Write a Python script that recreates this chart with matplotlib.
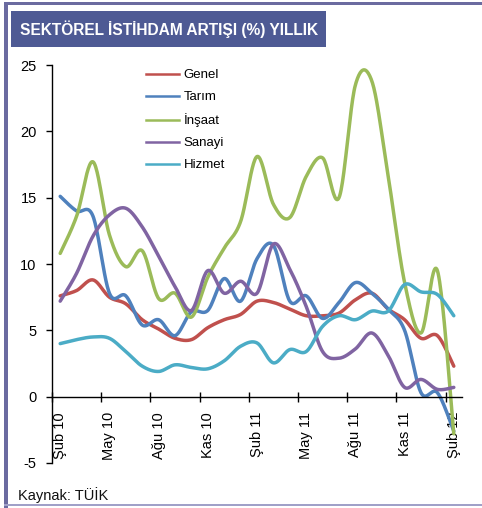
import numpy as np
import matplotlib
matplotlib.use('Agg')
import matplotlib.pyplot as plt
from matplotlib.patches import Rectangle
from matplotlib.lines import Line2D

plt.rcParams['font.family'] = ['Liberation Sans', 'DejaVu Sans']

# ---- data ----
tick_labels = ['Şub 10', 'May 10', 'Ağu 10', 'Kas 10', 'Şub 11', 'May 11', 'Ağu 11', 'Kas 11', 'Şub 12']
series_names = ['Genel', 'Tarım', 'İnşaat', 'Sanayi', 'Hizmet']
genel = [7.6, 8.0, 8.8, 7.5, 7.0, 5.8, 5.1, 4.4, 4.3, 5.2, 5.8, 6.2, 7.2, 7.1, 6.6, 6.1, 6.1, 6.3, 7.3, 7.8, 6.6, 5.8, 4.4, 4.6, 2.3]
tarim = [15.1, 14.0, 13.6, 7.8, 7.6, 5.4, 5.8, 4.6, 6.4, 6.5, 8.9, 7.2, 10.4, 11.4, 7.2, 7.6, 5.9, 7.1, 8.6, 7.8, 6.6, 5.0, 0.3, 0.3, -2.6]
insaat = [10.8, 13.6, 17.7, 12.2, 9.8, 11.0, 7.4, 7.8, 6.0, 9.0, 11.2, 13.2, 18.1, 14.5, 13.5, 16.6, 18.0, 15.0, 23.5, 23.8, 16.6, 8.6, 4.8, 9.5, -2.8]
sanayi = [7.2, 9.3, 12.1, 13.7, 14.2, 12.8, 10.6, 8.3, 6.5, 9.5, 7.8, 8.7, 7.8, 11.5, 9.6, 6.8, 3.4, 2.9, 3.6, 4.8, 3.1, 0.7, 1.3, 0.55, 0.7]
hizmet = [4.0, 4.3, 4.5, 4.4, 3.4, 2.3, 1.9, 2.4, 2.2, 2.1, 2.7, 3.8, 4.05, 2.55, 3.55, 3.4, 5.3, 6.1, 5.8, 6.45, 6.45, 8.45, 7.9, 7.7, 6.1]
colors = ['#C0504D', '#4F81BD', '#9BBB59', '#8064A2', '#4BACC6']


def smooth(y, n=24):
    """Excel-like smoothed line (Catmull-Rom Bezier) through the points."""
    y = np.asarray(y, float)
    x = np.arange(len(y), dtype=float)
    P = np.column_stack([x, y])
    Pe = np.vstack([P[0], P, P[-1]])
    out = []
    t = np.linspace(0, 1, n, endpoint=False)[:, None]
    for i in range(len(P) - 1):
        p0, p1, p2, p3 = Pe[i], Pe[i + 1], Pe[i + 2], Pe[i + 3]
        b1 = p1 + (p2 - p0) / 6.0
        b2 = p2 - (p3 - p1) / 6.0
        seg = ((1 - t) ** 3) * p1 + 3 * ((1 - t) ** 2) * t * b1 + 3 * (1 - t) * t ** 2 * b2 + t ** 3 * p2
        out.append(seg)
    out.append(P[-1][None, :])
    out = np.vstack(out)
    return out[:, 0], out[:, 1]


W, H = 482, 508
fig = plt.figure(figsize=(W / 100, H / 100), dpi=100)
fig.patch.set_facecolor('white')

# frame decoration
fig.add_artist(Rectangle((4 / W, 0), 4 / W, 1 - 2 / H, transform=fig.transFigure,
                         facecolor='#6B6BA0', edgecolor='none'))
fig.add_artist(Rectangle((4 / W, 1 - 5 / H), 1, 3 / H, transform=fig.transFigure,
                         facecolor='#6B6BA0', edgecolor='none'))
fig.add_artist(Rectangle((4 / W, 2 / H), 1, 2 / H, transform=fig.transFigure,
                         facecolor='#A0A0C8', edgecolor='none'))
# title bar
fig.add_artist(Rectangle((11 / W, 1 - 47 / H), 315 / W, 36 / H, transform=fig.transFigure,
                         facecolor='#4E5A94', edgecolor='none'))
fig.text(20 / W, 1 - 29 / H, 'SEKTÖREL İSTİHDAM ARTIŞI (%) YILLIK', color='white',
         fontsize=11.2, fontweight='bold', ha='left', va='center')
fig.text(18 / W, 1 - 495 / H, 'Kaynak: TÜİK', fontsize=10.5, ha='left', va='center', color='#111111')

ax = fig.add_axes([52 / W, 1 - 463 / H, 410 / W, 398 / H])
series = [genel, tarim, insaat, sanayi, hizmet]
for name, vals, c in zip(series_names, series, colors):
    sx, sy = smooth(vals)
    ax.plot(sx, sy, color=c, lw=2.5, solid_capstyle='round', solid_joinstyle='round')

n = len(genel)
ax.set_xlim(-0.5, n - 0.5)
ax.set_ylim(-5, 25)
ax.set_yticks([-5, 0, 5, 10, 15, 20, 25])
ax.set_yticklabels(['-5', '0', '5', '10', '15', '20', '25'])
ax.tick_params(axis='y', direction='out', length=4, width=1, labelsize=10.5, pad=7)

ax.spines['top'].set_visible(False)
ax.spines['right'].set_visible(False)
ax.spines['bottom'].set_position(('data', 0))
ax.spines['left'].set_linewidth(1)
ax.spines['bottom'].set_linewidth(1)

ax.set_xticks(np.arange(0, n, 3))
ax.set_xticklabels(tick_labels, rotation=90, fontsize=10.5, ha='center', va='top')
ax.set_xticks(np.arange(-0.5, n, 3), minor=True)
ax.tick_params(axis='x', which='major', length=0, pad=11)
ax.tick_params(axis='x', which='minor', direction='inout', length=7, width=1)

handles = [Line2D([], [], color=c, lw=1.8) for c in colors]
ax.legend(handles, series_names, loc='upper left', bbox_to_anchor=(146 / W, 1 - 69 / H),
          bbox_transform=fig.transFigure, frameon=False, fontsize=9.5, handlelength=2.5,
          handletextpad=0.35, labelspacing=0.75, borderaxespad=0, borderpad=0)

fig.savefig('out.png', dpi=100)
